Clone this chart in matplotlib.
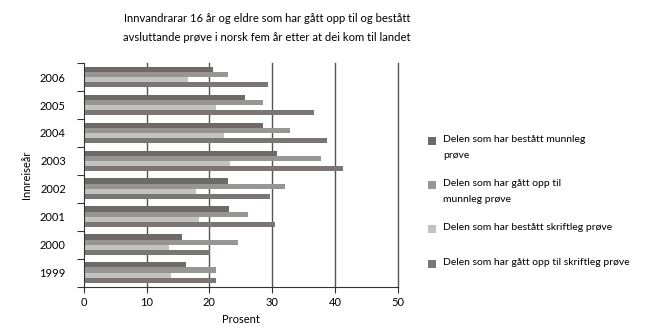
import numpy as np
import matplotlib.pyplot as plt
from matplotlib.patches import Rectangle

plt.rcParams['font.family'] = ['Lato', 'DejaVu Sans']

years = ['1999', '2000', '2001', '2002', '2003', '2004', '2005', '2006']
bestatt_munnleg = [16.3, 15.7, 23.1, 22.9, 30.7, 28.6, 25.7, 20.5]
opp_munnleg = [21.0, 24.5, 26.2, 32.0, 37.7, 32.8, 28.5, 22.9]
bestatt_skriftleg = [13.8, 13.5, 18.3, 17.9, 23.3, 22.3, 21.1, 16.6]
opp_skriftleg = [21.0, 20.1, 30.4, 29.6, 41.2, 38.8, 36.6, 29.4]

labels = ['Delen som har bestått munnleg\nprøve',
          'Delen som har gått opp til\nmunnleg prøve',
          'Delen som har bestått skriftleg prøve',
          'Delen som har gått opp til skriftleg prøve']
colors = ['#6e6a69', '#989695', '#c3c3c3', '#7a7675']
series = [bestatt_munnleg, opp_munnleg, bestatt_skriftleg, opp_skriftleg]

W, H = 650, 334
fig = plt.figure(figsize=(W / 100, H / 100), dpi=100)
ax = fig.add_axes([0.129, 0.142, 0.483, 0.669])

y = np.arange(len(years))
h = 0.185
offsets = [1.5 * h, 0.5 * h, -0.5 * h, -1.5 * h]
for vals, off, c in zip(series, offsets, colors):
    ax.barh(y + off, vals, height=h, color=c, zorder=2)

ax.set_xlim(0, 50)
ax.set_ylim(-0.5, len(years) - 0.5)
ax.set_xticks(range(0, 51, 10))
ax.set_yticks(y)
ax.set_yticklabels(years)
ax.set_yticks(np.arange(-0.5, len(years), 1), minor=True)
ax.tick_params(axis='y', which='major', length=0, labelsize=8, pad=13)
ax.tick_params(axis='y', which='minor', length=5, width=0.8, color='#333333')
ax.tick_params(axis='x', length=4, width=0.8, color='#333333', labelsize=8)
for xv in range(10, 51, 10):
    ax.axvline(xv, color='#555555', linewidth=1, zorder=0, clip_on=False)
for s in ['top', 'right']:
    ax.spines[s].set_visible(False)
for s in ['left', 'bottom']:
    ax.spines[s].set_color('#333333')
    ax.spines[s].set_linewidth(0.8)

ax.set_xlabel('Prosent', fontsize=8, labelpad=4)
ax.set_ylabel('Innreiseår', fontsize=8)
ax.yaxis.set_label_coords(-0.166, 0.5)

fig.text(267 / W, 1 - 28 / H, 'Innvandrarar 16 år og eldre som har gått opp til og bestått\n'
         'avsluttande prøve i norsk fem år etter at dei kom til landet',
         ha='center', va='center', fontsize=8.1, linespacing=1.85)

# legend, drawn by hand to get the wide line spacing
entry_y = [141, 185, 229, 264]
for lab, c, ey in zip(labels, colors, entry_y):
    fig.patches.append(Rectangle((428 / W, 1 - (ey + 4) / H), 8 / W, 8 / H,
                                 transform=fig.transFigure, facecolor=c,
                                 edgecolor='none'))
    fig.text(443 / W, 1 - (ey - 6) / H, lab, ha='left', va='top',
             fontsize=7.5, linespacing=2.05)

fig.savefig('out.png', dpi=100)
